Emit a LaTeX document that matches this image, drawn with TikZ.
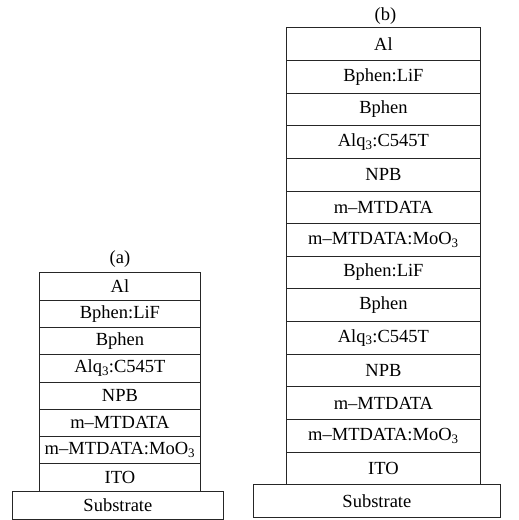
\documentclass[tikz,border=0pt]{standalone}
\usepackage{fontspec}
\setmainfont{Liberation Serif}
\begin{document}
\begin{tikzpicture}[x=1pt,y=-1pt,
  layer/.style={draw=black!85, line width=0.8pt, rectangle, inner sep=0pt,
    anchor=north west, font=\fontsize{18.5}{18.5}\selectfont},
  layerA/.style={layer, minimum width=161pt, minimum height=27.3pt},
  layerB/.style={layer, minimum width=194pt, minimum height=32.64pt},
  caption/.style={font=\fontsize{18.5}{18.5}\selectfont, inner sep=0pt}]
\useasboundingbox (0,0) rectangle (519,520);
% stack (a)
\node[caption] (capa) at (120,259) {(a)};
\foreach \t [count=\i] in {{Al},{Bphen:LiF},{Bphen},{Alq\textsubscript{3}:C545T},{NPB},{m--MTDATA},{m--MTDATA:MoO\textsubscript{3}},{ITO}}
  \node[layerA] (a\i) at (39,{272.3+27.3*(\i-1)}) {\t};
\node[layer, minimum width=211pt, minimum height=28.3pt] (asub) at (12,490.7) {Substrate};
% stack (b)
\node[caption] (capb) at (385.5,16) {(b)};
\foreach \t [count=\i] in {{Al},{Bphen:LiF},{Bphen},{Alq\textsubscript{3}:C545T},{NPB},{m--MTDATA},{m--MTDATA:MoO\textsubscript{3}},{Bphen:LiF},{Bphen},{Alq\textsubscript{3}:C545T},{NPB},{m--MTDATA},{m--MTDATA:MoO\textsubscript{3}},{ITO}}
  \node[layerB] (b\i) at (286,{27.3+32.64*(\i-1)}) {\t};
\node[layer, minimum width=247pt, minimum height=32.4pt] (bsub) at (253,484.3) {Substrate};
\end{tikzpicture}
\end{document}
